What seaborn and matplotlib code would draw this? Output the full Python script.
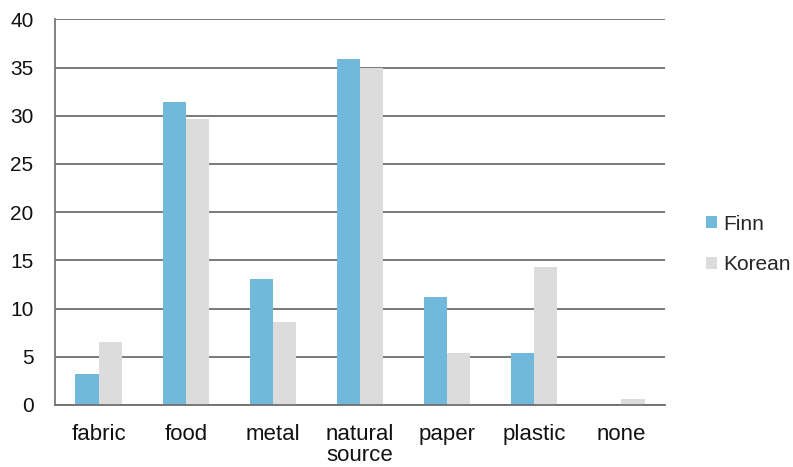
import matplotlib
matplotlib.use("Agg")
import matplotlib.pyplot as plt
from matplotlib.patches import Patch
import seaborn as sns
import pandas as pd

categories = ["fabric", "food", "metal", "natural\nsource", "paper", "plastic", "none"]
finn = [3.2, 31.4, 13.1, 35.9, 11.2, 5.4, 0.0]
korean = [6.5, 29.7, 8.6, 34.9, 5.4, 14.3, 0.6]
series = ["Finn", "Korean"]
colors = ["#71B9DB", "#DCDCDC"]
yticks = [0, 5, 10, 15, 20, 25, 30, 35, 40]

df = pd.DataFrame({
    "category": categories * 2,
    "value": finn + korean,
    "group": [series[0]] * len(categories) + [series[1]] * len(categories),
})

sns.set_theme(style="white")
plt.rcParams["font.family"] = ["Liberation Sans", "DejaVu Sans"]

fig = plt.figure(figsize=(7.93, 4.67), dpi=100)
ax = fig.add_axes([55 / 793, 1 - 405 / 467, 610 / 793, (405 - 19.3) / 467])

sns.barplot(data=df, x="category", y="value", hue="group", order=categories,
            hue_order=series, palette=colors, width=0.53, saturation=1,
            linewidth=0, ax=ax, legend=False)

ax.set_ylim(0, 40)
ax.set_xlim(-0.5, len(categories) - 0.5)
ax.set_yticks(yticks)
ax.yaxis.grid(True, color="#6e6e6e", linewidth=1.3)
ax.set_axisbelow(True)
ax.set_xlabel("")
ax.set_ylabel("")
for side in ["top", "right"]:
    ax.spines[side].set_visible(False)
ax.spines["left"].set_color("#777777")
ax.spines["left"].set_linewidth(1.3)
ax.spines["bottom"].set_color("#6e6e6e")
ax.spines["bottom"].set_linewidth(1.3)
ax.tick_params(axis="both", length=0, colors="#111111")
ax.tick_params(axis="x", labelsize=16, pad=14)
ax.tick_params(axis="y", labelsize=15, pad=15.5)
for lbl in ax.get_xticklabels():
    lbl.set_linespacing(0.95)

handles = [Patch(facecolor=c, edgecolor="none") for c in colors]
fig.legend(handles, series, loc="center left", bbox_to_anchor=(706 / 793, 1 - 244.5 / 467),
           frameon=False, fontsize=15, handlelength=0.53, handleheight=0.53,
           handletextpad=0.3, labelspacing=1.05, borderpad=0, borderaxespad=0)

fig.savefig("out.png", dpi=100)
